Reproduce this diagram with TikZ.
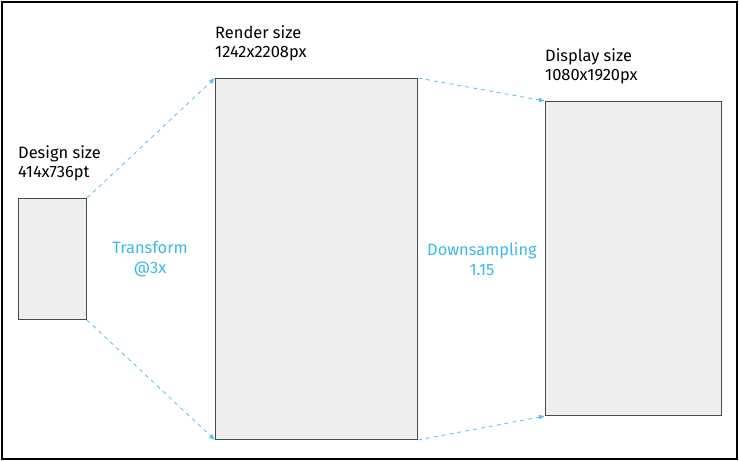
\documentclass[tikz,border=0pt]{standalone}
\usepackage{fontspec}
\setmainfont{Fira Sans}
\usetikzlibrary{arrows.meta,positioning}
\definecolor{screen}{HTML}{EEEEEE}
\definecolor{edge}{HTML}{4A4A4A}
\definecolor{sky}{HTML}{4FC3F7}
\definecolor{skytext}{HTML}{3BB8EE}

\begin{document}
\begin{tikzpicture}[
  x=1bp, y=-1bp,
  font=\fontsize{16.5}{19.5}\selectfont,
  screenbox/.style={draw=edge, fill=screen, line width=1bp, anchor=north west, inner sep=0pt},
  caption/.style={anchor=north west, align=left, inner sep=0pt},
  steplabel/.style={text=skytext, align=center, inner sep=0pt},
  arr/.style={-{Latex[length=6bp,width=5bp]}, draw=sky, line width=0.8bp, dash pattern=on 4bp off 4bp}
]
\useasboundingbox (0,0) rectangle (739,461);
\draw[line width=2bp] (2,2) rectangle (737,459);
\node[screenbox, minimum width=68bp, minimum height=121bp] (design) at (18,198) {};
\node[screenbox, minimum width=202bp, minimum height=361bp] (render) at (215,78) {};
\node[screenbox, minimum width=176bp, minimum height=314bp] (display) at (545,101) {};
\node[caption] (designlbl) at (18,145) {Design size\\414x736pt};
\node[caption] (renderlbl) at (215,25) {Render size\\1242x2208px};
\node[caption] (displaylbl) at (545,48) {Display size\\1080x1920px};
\node[steplabel] (transform) at (150,259) {Transform\\@3x};
\node[steplabel] (downsample) at (482,259) {Downsampling\\1.15};
\draw[arr] (design.north east) -- (render.north west);
\draw[arr] (design.south east) -- (render.south west);
\draw[arr] (render.north east) -- (display.north west);
\draw[arr] (render.south east) -- (display.south west);
\end{tikzpicture}
\end{document}
